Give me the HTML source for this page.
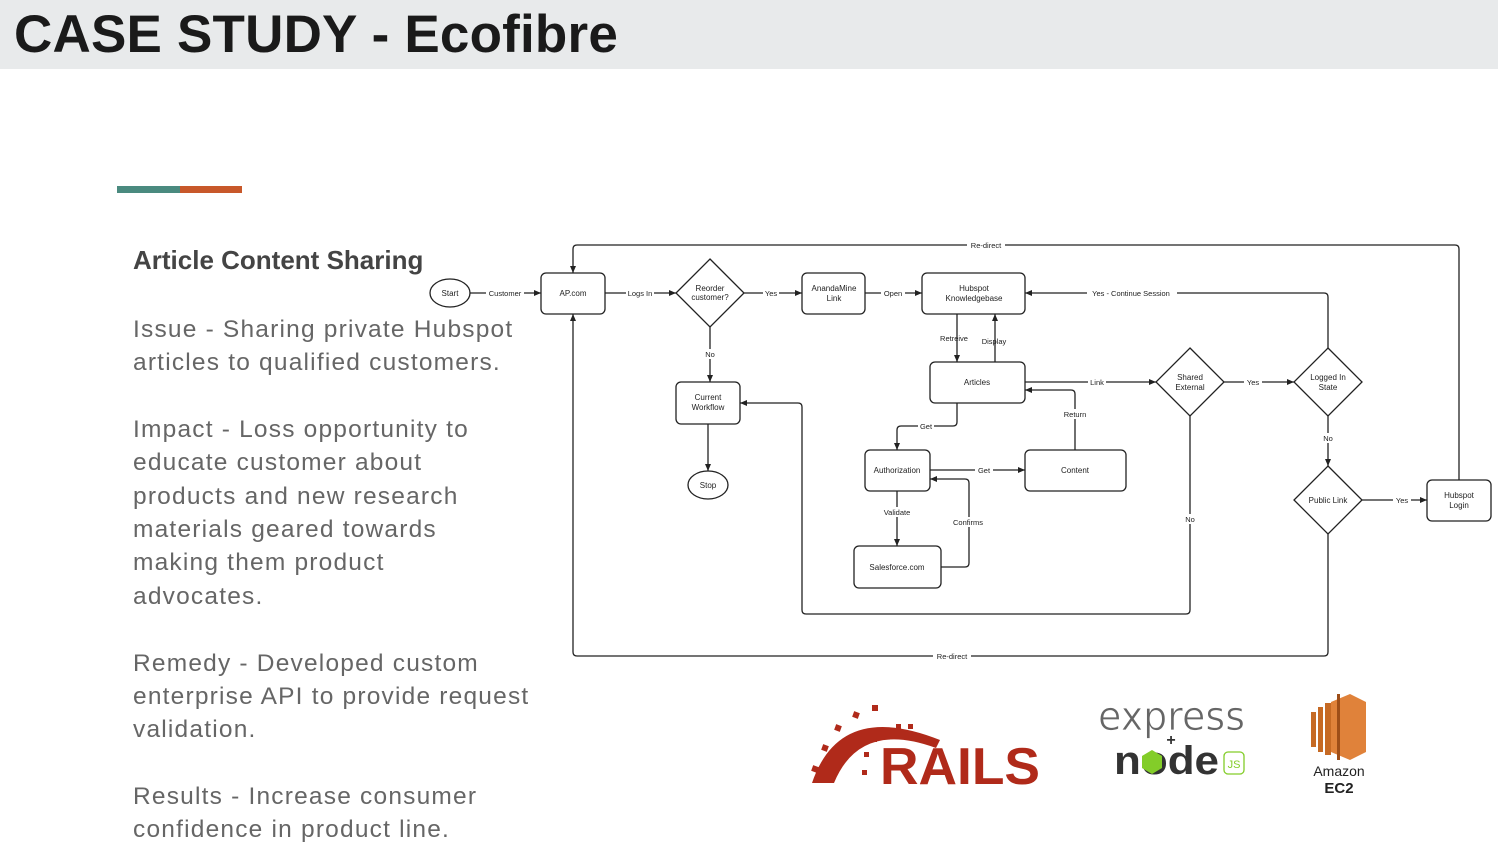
<!DOCTYPE html>
<html><head><meta charset="utf-8"><style>
html,body{margin:0;padding:0;background:#fff;}
body{width:1498px;height:843px;position:relative;overflow:hidden;font-family:"Liberation Sans",sans-serif;}
.hdr{position:absolute;left:0;top:0;width:1498px;height:69px;background:#e8eaeb;}
.title{position:absolute;left:14px;top:4px;font-size:53px;font-weight:bold;color:#1a1a1a;letter-spacing:0.2px;white-space:nowrap;}
.t{position:absolute;left:133px;font-size:24.5px;color:#666;white-space:nowrap;letter-spacing:1.2px;line-height:30px;}
.h{position:absolute;left:133px;top:245px;font-size:26px;color:#444;font-weight:bold;white-space:nowrap;}
svg text{font-family:"Liberation Sans",sans-serif;}
</style></head><body>
<div class="hdr"></div>
<div class="title">CASE STUDY - Ecofibre</div>
<div style="position:absolute;left:117px;top:186px;width:63px;height:7px;background:#4a8a7f"></div>
<div style="position:absolute;left:180px;top:186px;width:62px;height:7px;background:#c8582a"></div>
<div class="h">Article Content Sharing</div>
<div class="t" style="top:315px">Issue - Sharing private Hubspot</div>
<div class="t" style="top:348px">articles to qualified customers.</div>
<div class="t" style="top:415px">Impact - Loss opportunity to</div>
<div class="t" style="top:448px">educate customer about</div>
<div class="t" style="top:482px">products and new research</div>
<div class="t" style="top:515px">materials geared towards</div>
<div class="t" style="top:548px">making them product</div>
<div class="t" style="top:582px">advocates.</div>
<div class="t" style="top:649px">Remedy - Developed custom</div>
<div class="t" style="top:682px">enterprise API to provide request</div>
<div class="t" style="top:715px">validation.</div>
<div class="t" style="top:782px">Results - Increase consumer</div>
<div class="t" style="top:815px">confidence in product line.</div>

<svg width="1498" height="843" style="position:absolute;left:0;top:0" xmlns="http://www.w3.org/2000/svg">
<defs><marker id="a" markerWidth="8" markerHeight="8" refX="7" refY="4" orient="auto" markerUnits="userSpaceOnUse"><path d="M0,1 L7,4 L0,7 Z" fill="#222"/></marker></defs>
<g fill="none" stroke="#222" stroke-width="1.3">
<ellipse cx="450" cy="293" rx="20" ry="14"/>
<rect x="541" y="273" width="64" height="41" rx="5"/>
<path d="M710,259 L744,293 L710,327 L676,293 Z"/>
<rect x="802" y="273" width="63" height="41" rx="5"/>
<rect x="922" y="273" width="103" height="41" rx="5"/>
<rect x="930" y="362" width="95" height="41" rx="5"/>
<rect x="676" y="382" width="64" height="42" rx="5"/>
<ellipse cx="708" cy="485" rx="20" ry="14"/>
<rect x="865" y="450" width="65" height="41" rx="5"/>
<rect x="1025" y="450" width="101" height="41" rx="5"/>
<rect x="854" y="546" width="87" height="42" rx="5"/>
<path d="M1190,348 L1224,382 L1190,416 L1156,382 Z"/>
<path d="M1328,348 L1362,382 L1328,416 L1294,382 Z"/>
<path d="M1328,466 L1362,500 L1328,534 L1294,500 Z"/>
<rect x="1427" y="480" width="64" height="41" rx="5"/>
<path d="M470,293 H541" marker-end="url(#a)"/>
<path d="M605,293 H676" marker-end="url(#a)"/>
<path d="M744,293 H802" marker-end="url(#a)"/>
<path d="M865,293 H922" marker-end="url(#a)"/>
<path d="M710,327 V382" marker-end="url(#a)"/>
<path d="M708,424 V471" marker-end="url(#a)"/>
<path d="M957,314 V362" marker-end="url(#a)"/>
<path d="M995,362 V314" marker-end="url(#a)"/>
<path d="M957,403 V422 Q957,426 953,426 H901 Q897,426 897,430 V450" marker-end="url(#a)"/>
<path d="M930,470 H1025" marker-end="url(#a)"/>
<path d="M897,491 V546" marker-end="url(#a)"/>
<path d="M941,567 H965 Q969,567 969,563 V483 Q969,479 965,479 H930" marker-end="url(#a)"/>
<path d="M1075,450 V394 Q1075,390 1071,390 H1025" marker-end="url(#a)"/>
<path d="M1025,382 H1156" marker-end="url(#a)"/>
<path d="M1224,382 H1294" marker-end="url(#a)"/>
<path d="M1328,348 V297 Q1328,293 1324,293 H1025" marker-end="url(#a)"/>
<path d="M1328,416 V466" marker-end="url(#a)"/>
<path d="M1362,500 H1427" marker-end="url(#a)"/>
<path d="M1459,480 V249 Q1459,245 1455,245 H577 Q573,245 573,249 V273" marker-end="url(#a)"/>
<path d="M1328,534 V652 Q1328,656 1324,656 H577 Q573,656 573,652 V314" marker-end="url(#a)"/>
<path d="M1190,416 V610 Q1190,614 1186,614 H806 Q802,614 802,610 V407 Q802,403 798,403 H740" marker-end="url(#a)"/>
</g>
<g font-size="8" fill="#222" text-anchor="middle">
<text x="450" y="296">Start</text>
<text x="573" y="296">AP.com</text>
<text x="710" y="291">Reorder</text><text x="710" y="300">customer?</text>
<text x="834" y="291">AnandaMine</text><text x="834" y="301">Link</text>
<text x="974" y="291">Hubspot</text><text x="974" y="301">Knowledgebase</text>
<text x="977" y="385">Articles</text>
<text x="708" y="400">Current</text><text x="708" y="410">Workflow</text>
<text x="708" y="488">Stop</text>
<text x="897" y="473">Authorization</text>
<text x="1075" y="473">Content</text>
<text x="897" y="570">Salesforce.com</text>
<text x="1190" y="380">Shared</text><text x="1190" y="390">External</text>
<text x="1328" y="380">Logged In</text><text x="1328" y="390">State</text>
<text x="1328" y="503">Public Link</text>
<text x="1459" y="498">Hubspot</text><text x="1459" y="508">Login</text>
</g>
<g font-size="7.5" fill="#222" text-anchor="middle">
<g fill="#fff"><rect x="486" y="288" width="38" height="10"/><rect x="626" y="288" width="28" height="10"/><rect x="763" y="288" width="16" height="10"/><rect x="881" y="288" width="24" height="10"/><rect x="704" y="349" width="12" height="10"/><rect x="918" y="421" width="16" height="10"/><rect x="975" y="465" width="18" height="10"/><rect x="881" y="507" width="32" height="10"/><rect x="951" y="517" width="36" height="10"/><rect x="1061" y="409" width="28" height="10"/><rect x="1088" y="377" width="18" height="10"/><rect x="1244" y="377" width="18" height="10"/><rect x="1087" y="288" width="90" height="10"/><rect x="1321" y="433" width="14" height="10"/><rect x="1393" y="495" width="18" height="10"/><rect x="967" y="240" width="38" height="10"/><rect x="933" y="651" width="38" height="10"/><rect x="1183" y="514" width="14" height="10"/></g>
<text x="505" y="296">Customer</text>
<text x="640" y="296">Logs In</text>
<text x="771" y="296">Yes</text>
<text x="893" y="296">Open</text>
<text x="710" y="357">No</text>
<text x="954" y="341">Retreive</text>
<text x="994" y="344">Display</text>
<text x="926" y="429">Get</text>
<text x="984" y="473">Get</text>
<text x="897" y="515">Validate</text>
<text x="968" y="525">Confirms</text>
<text x="1075" y="417">Return</text>
<text x="1097" y="385">Link</text>
<text x="1253" y="385">Yes</text>
<text x="1131" y="296">Yes - Continue Session</text>
<text x="1328" y="441">No</text>
<text x="1402" y="503">Yes</text>
<text x="986" y="248">Re-direct</text>
<text x="952" y="659">Re-direct</text>
<text x="1190" y="522">No</text>
</g>
<g fill="#b02a1a">
<path d="M812,783 Q840,700 940,740 L936,748 Q860,720 834,783 Z"/>
<rect x="812" y="766" width="6" height="6" transform="rotate(20 815 769)"/>
<rect x="822" y="745" width="6" height="6" transform="rotate(20 825 748)"/>
<rect x="835" y="725" width="6" height="6" transform="rotate(20 838 728)"/>
<rect x="853" y="712" width="6" height="6" transform="rotate(20 856 715)"/>
<rect x="872" y="705" width="6" height="6"/>
<rect x="862" y="770" width="5" height="5"/><rect x="864" y="752" width="5" height="5"/><rect x="872" y="737" width="5" height="5"/><rect x="883" y="728" width="5" height="5"/><rect x="896" y="724" width="5" height="5"/><rect x="908" y="724" width="5" height="5"/>
<text x="880" y="784" font-size="52" font-weight="bold" textLength="160" lengthAdjust="spacingAndGlyphs" style="font-family:'Liberation Sans',sans-serif">RAILS</text>
</g>
<text x="1098" y="730" font-size="40" fill="#666" textLength="147" lengthAdjust="spacingAndGlyphs" style="font-family:'DejaVu Sans',sans-serif" stroke="#fff" stroke-width="0.8">express</text>
<text x="1171" y="745" font-size="16" font-weight="bold" fill="#333" text-anchor="middle">+</text>
<text x="1114" y="774" font-size="40" font-weight="bold" fill="#333" textLength="105" lengthAdjust="spacingAndGlyphs">node</text>
<path d="M1152,750 L1162,756 V768 L1152,774 L1142,768 V756 Z" fill="#83cd29"/>
<rect x="1224" y="752" width="20" height="22" rx="4" fill="none" stroke="#83cd29" stroke-width="1.3"/>
<text x="1234" y="768" font-size="11" fill="#83cd29" text-anchor="middle">JS</text>
<path d="M1331,702 L1350,694 L1366,702 V752 L1350,760 L1331,752 Z" fill="#e0823a"/>
<rect x="1311" y="712" width="5" height="35" fill="#c66a24"/><rect x="1318" y="707" width="5" height="45" fill="#c66a24"/><rect x="1325" y="703" width="6" height="52" fill="#c66a24"/><rect x="1337" y="694" width="3" height="66" fill="#9e4e18"/>
<text x="1339" y="776" font-size="14" fill="#222" text-anchor="middle">Amazon</text>
<text x="1339" y="793" font-size="15" font-weight="bold" fill="#222" text-anchor="middle">EC2</text>
</svg>
</body></html>
